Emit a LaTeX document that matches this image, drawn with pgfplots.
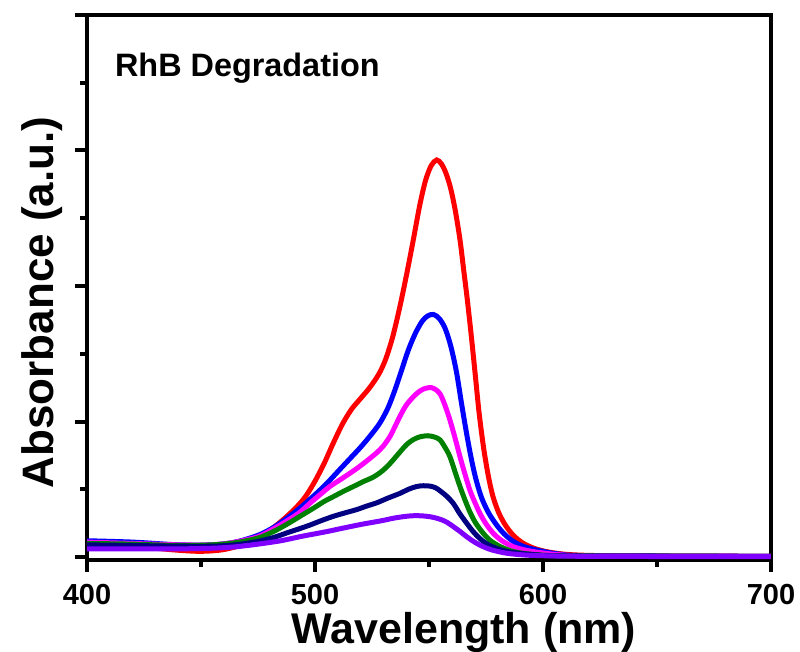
\documentclass[border=0pt]{standalone}
\usepackage{pgfplots}
\pgfplotsset{compat=1.18}
\usepackage{fontspec}
\setmainfont{Liberation Sans}

\definecolor{cred}{RGB}{255,0,0}
\definecolor{cblue}{RGB}{0,0,255}
\definecolor{cmag}{RGB}{255,0,255}
\definecolor{cnavy}{RGB}{0,0,128}
\definecolor{cgreen}{RGB}{0,128,0}
\definecolor{cviolet}{RGB}{128,0,255}

\begin{document}
\begin{tikzpicture}
\begin{axis}[
  scale only axis, width=342pt, height=272.5pt,
  xmin=400, xmax=700, ymin=-0.022, ymax=4,
  axis line style={line width=2pt},
  xtick={400,500,600,700}, minor xtick={450,550,650},
  ytick={0,1,2,3,4}, minor ytick={0.5,1.5,2.5,3.5},
  yticklabels={},
  tick align=outside, tick pos=left,
  major tick length=6pt, minor tick length=3.5pt,
  every tick/.style={black, line width=2pt},
  xticklabel style={font=\bfseries\fontsize{14.5}{14.5}\selectfont, anchor=base, inner sep=0pt, yshift=-16.5pt},
  /pgf/number format/assume math mode=true,
  xlabel={Wavelength (nm)},
  ylabel={Absorbance (a.u.)},
  xlabel style={font=\bfseries\fontsize{21.5}{21.5}\selectfont, at={(rel axis cs:0.551,0)}, anchor=base, inner sep=0pt, yshift=-42pt},
  ylabel style={font=\bfseries\fontsize{22}{22}\selectfont, at={(rel axis cs:-0.0497,0.4725)}, anchor=base, inner sep=0pt},
  every axis plot/.append style={line width=2.5pt, no markers, smooth, tension=0.5},
]
\coordinate (sw) at (rel axis cs:0,0);

% red
\addplot[cred] coordinates {
(400,0.10) (415,0.09) (430,0.065) (440,0.05) (450,0.042) (460,0.055) (470,0.10)
(477,0.16) (482,0.22) (487,0.29) (492,0.37) (496,0.45) (500,0.56) (504,0.69)
(508,0.84) (512,0.98) (516,1.09) (520,1.17) (524,1.25) (528,1.35) (531,1.46)
(534,1.62) (537,1.83) (540,2.07) (543,2.33) (546,2.60) (548.5,2.78) (551,2.89)
(553.4,2.93) (555.5,2.90) (557.5,2.83) (559.5,2.72) (561.5,2.56) (563.6,2.34)
(565.2,2.12) (566.8,1.90) (568.5,1.64) (570.2,1.36) (572,1.06) (574,0.80)
(576,0.60) (578,0.45) (580.5,0.33) (583.5,0.235) (587,0.16) (591,0.105)
(596,0.065) (602,0.038) (610,0.02) (620,0.012) (640,0.008) (700,0.005)};

% blue
\addplot[cblue] coordinates {
(400,0.12) (420,0.11) (440,0.09) (455,0.09) (465,0.11) (475,0.16) (482,0.22)
(488,0.29) (494,0.37) (500,0.46) (505,0.54) (510,0.63) (515,0.72) (520,0.81)
(524.5,0.90) (528.5,0.99) (532,1.10) (535,1.23) (538,1.38) (541,1.53) (544,1.65)
(547,1.74) (549.5,1.78) (552,1.79) (554.5,1.76) (557,1.69) (559.5,1.56) (562,1.37)
(564.3,1.13) (566.5,0.91) (568.5,0.73) (570.5,0.58) (573,0.44) (576,0.33)
(579.5,0.24) (583,0.17) (587,0.115) (592,0.075) (599,0.045) (607,0.022)
(620,0.01) (700,0.005)};

% magenta
\addplot[cmag] coordinates {
(400,0.11) (420,0.10) (440,0.09) (455,0.09) (465,0.11) (475,0.15) (482,0.21)
(488,0.27) (493.4,0.33) (498,0.40) (502.2,0.46) (506.5,0.52) (511,0.57)
(515.5,0.62) (519.7,0.67) (523.5,0.72) (527.1,0.77) (530,0.82) (532.9,0.89)
(535,0.96) (537.3,1.04) (540,1.12) (543,1.18) (546,1.225) (548.5,1.245)
(551,1.25) (553,1.235) (555,1.20) (557,1.12) (559.2,1.01) (561.4,0.88)
(563.6,0.74) (565.8,0.61) (568,0.49) (570.2,0.40) (572.4,0.32) (575,0.245)
(578.2,0.175) (582,0.12) (587,0.076) (593,0.048) (599,0.032) (607,0.017)
(620,0.009) (700,0.005)};

% green
\addplot[cgreen] coordinates {
(400,0.10) (420,0.095) (440,0.085) (455,0.09) (465,0.105) (475,0.14) (482,0.19)
(488,0.245) (493.4,0.30) (499.3,0.36) (504,0.41) (508,0.445) (512.5,0.485)
(516.8,0.52) (521,0.555) (525.6,0.59) (529.5,0.635) (532.9,0.69) (536.5,0.76)
(540.2,0.83) (543,0.865) (546,0.887) (549.5,0.895) (552.5,0.885) (554.8,0.865)
(557,0.81) (559.2,0.74) (561.4,0.63) (563.6,0.52) (565.8,0.42) (568,0.33)
(570.5,0.25) (573.8,0.175) (577,0.12) (581.1,0.078) (586,0.045) (591.3,0.027)
(600,0.014) (615,0.008) (700,0.005)};

% navy
\addplot[cnavy] coordinates {
(400,0.09) (420,0.085) (440,0.08) (455,0.08) (465,0.09) (475,0.115) (482,0.145)
(488,0.18) (493.4,0.21) (497.8,0.236) (503,0.27) (508,0.30) (513,0.325)
(518.3,0.35) (522.5,0.375) (527.1,0.40) (532,0.435) (537.3,0.47) (541,0.50)
(544.5,0.52) (547.5,0.526) (550.5,0.523) (553,0.51) (555.5,0.48) (558,0.445)
(560.7,0.395) (563.5,0.32) (566.5,0.25) (569.5,0.185) (572.4,0.135) (576,0.09)
(579.7,0.063) (584,0.042) (589.9,0.027) (598,0.015) (610,0.008) (700,0.004)};

% violet
\addplot[cviolet] coordinates {
(400,0.06) (420,0.06) (440,0.06) (455,0.065) (465,0.075) (475,0.095) (485,0.12)
(493.4,0.15) (499,0.168) (505,0.187) (510,0.205) (515.4,0.224) (520,0.24)
(525,0.255) (529.9,0.27) (534,0.285) (538,0.296) (541.5,0.303) (544.5,0.305)
(547.5,0.303) (550.5,0.297) (553,0.288) (555.5,0.275) (558,0.255) (560.7,0.224)
(563.5,0.19) (566.5,0.15) (570,0.11) (573.8,0.076) (578,0.05) (584,0.028)
(591,0.016) (599,0.01) (620,0.005) (700,0.002)};

\node[anchor=base west, xshift=10.5pt, yshift=-31pt, font=\bfseries\fontsize{16.2}{16.2}\selectfont]
  at (rel axis cs:0,1) {RhB Degradation};
\end{axis}
\pgfresetboundingbox
\path (sw) ++(-43.5pt,-46pt) rectangle ++(400pt,326pt);
\end{tikzpicture}
\end{document}
